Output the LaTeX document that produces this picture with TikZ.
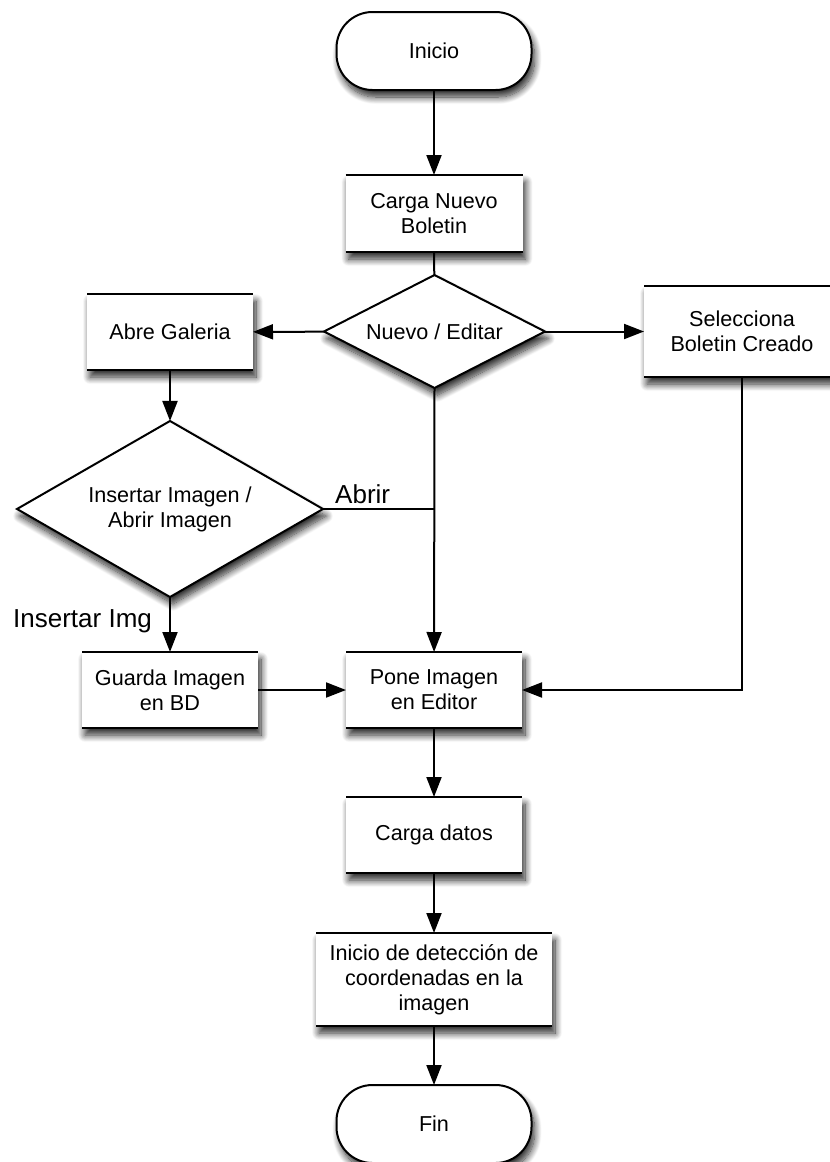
\documentclass[tikz,border=0pt]{standalone}
\usepackage{fontspec}
\setmainfont{Liberation Sans}
\usetikzlibrary{shapes.geometric,arrows.meta,shadows.blur,calc}

\begin{document}
\begin{tikzpicture}[x=1pt,y=-1pt,
  font=\fontsize{21.6}{25}\selectfont,
  shade/.style={blur shadow={shadow xshift=3pt,shadow yshift=-7pt,shadow blur steps=12,shadow blur radius=7pt,shadow opacity=85}},
  proc/.style={rectangle,fill=white,draw=none,inner sep=0pt,outer sep=0pt,align=center,shade},
  term/.style={rectangle,rounded corners=36pt,fill=white,draw=black,line width=2pt,inner sep=0pt,outer sep=0pt,minimum width=195pt,minimum height=78pt,shade},
  decision/.style={diamond,fill=white,draw=black,line width=2pt,inner sep=0pt,outer sep=0pt,align=center,shade},
  rim/.style={line width=2.6pt},
  link/.style={line width=2pt},
  flow/.style={link,-{Triangle[length=20pt,width=15pt]}},
  lbl/.style={font=\fontsize{26}{30}\selectfont,inner sep=0pt}
]
\useasboundingbox (0,0) rectangle (830,1162);

% terminals
\node[term] (ini) at (434,51) {Inicio};
\node[term] (fin) at (434,1124) {Fin};

% process boxes
\node[proc,minimum width=177pt,minimum height=77pt] (car) at (434,213.5) {Carga Nuevo\\Boletin};
\node[proc,minimum width=166pt,minimum height=76pt] (abre) at (170,332) {Abre Galeria};
\node[proc,minimum width=196pt,minimum height=91pt] (sel) at (742,331.5) {Selecciona\\Boletin Creado};
\node[proc,minimum width=176pt,minimum height=76pt] (gua) at (170,690) {Guarda Imagen\\en BD};
\node[proc,minimum width=176pt,minimum height=76pt] (pone) at (434,690) {Pone Imagen\\en Editor};
\node[proc,minimum width=176pt,minimum height=76pt] (cd) at (434,835) {Carga datos};
\node[proc,minimum width=236pt,minimum height=93pt] (det) at (434,979.5) {Inicio de detección de\\coordenadas en la\\imagen};

% decisions
\node[decision,aspect=1.96,minimum width=221pt,minimum height=113pt] (nue) at (434.5,331.5) {Nuevo / Editar};
\node[decision,aspect=1.74,minimum width=306pt,minimum height=176pt] (ins) at (170,509) {Insertar Imagen /\\Abrir Imagen};

% top and bottom rules of the process boxes
\foreach \n in {car,abre,sel,gua,pone,cd,det}
  \draw[rim] (\n.north west) -- (\n.north east) (\n.south west) -- (\n.south east);

% connectors
\draw[flow] (ini) -- (car);
\draw[link] (car) -- (nue);
\draw[flow] (nue) -- (abre);
\draw[flow] (nue) -- (sel);
\draw[flow] (abre) -- (ins);
\draw[link] (ins.east) -- (ins.east -| nue.south);
\draw[flow] (nue.south) -- (pone);
\draw[flow] (ins) -- (gua);
\draw[flow] (gua) -- (pone);
\draw[flow] (sel.south) |- (pone.east);
\draw[flow] (pone) -- (cd);
\draw[flow] (cd) -- (det);
\draw[flow] (det) -- (fin);

% branch labels
\node[lbl,anchor=west] (abrir) at (335,494) {Abrir};
\node[lbl,anchor=west] (insimg) at (13,621) {Insertar Img};
\end{tikzpicture}
\end{document}
